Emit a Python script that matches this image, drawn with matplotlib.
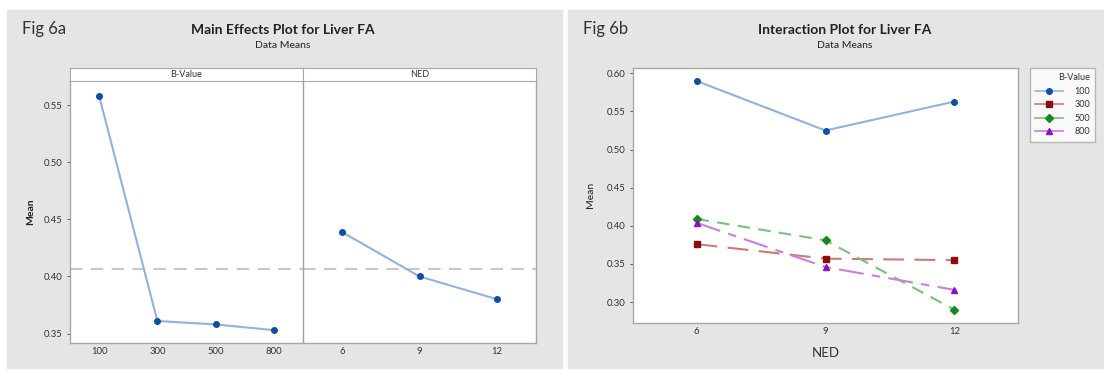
import matplotlib.pyplot as plt
from matplotlib.patches import Rectangle

plt.rcParams['font.family'] = ['Lato', 'DejaVu Sans']

# Fig 6a : main effects
bvalue_levels = ['100', '300', '500', '800']
bvalue_means = [0.558, 0.361, 0.358, 0.353]
ned_levels = ['6', '9', '12']
ned_means = [0.439, 0.400, 0.380]
grand_mean = 0.4065

# Fig 6b : interaction (B-Value x NED)
ned_x = [6, 9, 12]
inter_labels = ['100', '300', '500', '800']
inter_means = {
    '100': [0.590, 0.525, 0.563],
    '300': [0.376, 0.357, 0.355],
    '500': [0.409, 0.381, 0.290],
    '800': [0.404, 0.346, 0.316],
}

W, H = 1104, 371
fig = plt.figure(figsize=(W / 100, H / 100), dpi=100)
fig.patch.set_facecolor('white')


def fx(px):
    return px / W


def fy(py):
    return 1 - py / H


panel_col = '#e5e5e5'
fig.patches.append(Rectangle((fx(7), fy(368)), fx(555), (358) / H,
                             transform=fig.transFigure, color=panel_col, zorder=-10))
fig.patches.append(Rectangle((fx(568), fy(368)), fx(536), (358) / H,
                             transform=fig.transFigure, color=panel_col, zorder=-10))

spine_col = '#a8a8a8'
tick_col = '#404040'


def style(ax):
    ax.set_facecolor('white')
    for s in ax.spines.values():
        s.set_color(spine_col)
        s.set_linewidth(1.0)
    ax.tick_params(axis='both', labelsize=6.8, colors=tick_col, length=2.5,
                   width=0.6, pad=3)
    for lab in ax.get_xticklabels() + ax.get_yticklabels():
        lab.set_color('#333333')


# ---------- Fig 6a ----------
y0, y1 = 0.342, 0.572
ax1 = fig.add_axes([fx(70), fy(342.7), fx(233), 262.7 / H])
ax2 = fig.add_axes([fx(303), fy(342.7), fx(233), 262.7 / H], sharey=ax1)

x1 = list(range(len(bvalue_levels)))
ax1.plot(x1, bvalue_means, color='#8fb3e0', lw=1.5, zorder=2)
ax1.plot(x1, bvalue_means, 'o', color='#0d4fa6', ms=4, zorder=3)
ax1.set_xlim(-0.5, len(bvalue_levels) - 0.5)
ax1.set_xticks(x1)
ax1.set_xticklabels(bvalue_levels)
ax1.set_ylim(y0, y1)
ax1.set_yticks([0.35, 0.40, 0.45, 0.50, 0.55])
ax1.set_yticklabels(['0.35', '0.40', '0.45', '0.50', '0.55'])
ax1.axhline(grand_mean, color='#c8c8c8', lw=1.5, ls=(0, (6, 4)), zorder=1)

x2 = list(range(len(ned_levels)))
ax2.plot(x2, ned_means, color='#8fb3e0', lw=1.5, zorder=2)
ax2.plot(x2, ned_means, 'o', color='#0d4fa6', ms=4, zorder=3)
ax2.set_xlim(-0.5, len(ned_levels) - 0.5)
ax2.set_xticks(x2)
ax2.set_xticklabels(ned_levels)
ax2.axhline(grand_mean, color='#c8c8c8', lw=1.5, ls=(0, (6, 4)), zorder=1)

style(ax1)
style(ax2)
ax2.tick_params(axis='y', left=False, labelleft=False)
ax2.tick_params(axis='x', length=0)
ax1.tick_params(axis='x', length=0)
ax1.spines['right'].set_visible(False)
ax2.spines['left'].set_color('#a0a0a0')
ax1.set_ylabel('Mean', fontsize=7.5, fontweight='bold', color='#222222', labelpad=6)

# strip headers
for left, label in [(70, 'B-Value'), (303, 'NED')]:
    sax = fig.add_axes([fx(left), fy(80.5), fx(233), 13 / H])
    sax.set_xticks([])
    sax.set_yticks([])
    sax.set_facecolor('white')
    for s in sax.spines.values():
        s.set_color(spine_col)
    sax.text(0.5, 0.45, label, ha='center', va='center', fontsize=6.5,
             color='#333333', transform=sax.transAxes)

fig.text(fx(22), fy(29), 'Fig 6a', fontsize=12, color='#333333', va='center')
fig.text(fx(283), fy(30), 'Main Effects Plot for Liver FA', fontsize=10,
         fontweight='bold', color='#222222', ha='center', va='center')
fig.text(fx(283), fy(46), 'Data Means', fontsize=7.5, color='#222222',
         ha='center', va='center')

# ---------- Fig 6b ----------
ax3 = fig.add_axes([fx(633), fy(322.7), fx(385), 254.7 / H])
styles = {
    '100': dict(line='#8fb3e0', mk='#0d4fa6', marker='o', ls='-', ms=4),
    '300': dict(line='#c97b78', mk='#8c0d0d', marker='s', ls=(0, (10, 5)), ms=4),
    '500': dict(line='#79c27a', mk='#138a1c', marker='D', ls=(0, (6, 4)), ms=3.6),
    '800': dict(line='#c97ee0', mk='#8a10c4', marker='^', ls=(0, (12, 4, 4, 4)), ms=4.2),
}
handles = []
for lab in inter_labels:
    st = styles[lab]
    ax3.plot(ned_x, inter_means[lab], color=st['line'], lw=1.5, ls=st['ls'], zorder=2)
    ax3.plot(ned_x, inter_means[lab], st['marker'], color=st['mk'], ms=st['ms'], zorder=3)
    h, = ax3.plot([], [], color=st['line'], lw=1.2, ls='-', marker=st['marker'],
                  mfc=st['mk'], mec=st['mk'], ms=st['ms'])
    handles.append(h)

ax3.set_xlim(4.52, 13.48)
ax3.set_ylim(0.273, 0.607)
ax3.set_xticks(ned_x)
ax3.set_xticklabels([str(v) for v in ned_x])
ax3.set_yticks([0.30, 0.35, 0.40, 0.45, 0.50, 0.55, 0.60])
ax3.set_yticklabels(['0.30', '0.35', '0.40', '0.45', '0.50', '0.55', '0.60'])
style(ax3)
ax3.tick_params(axis='x', length=0)
ax3.set_ylabel('Mean', fontsize=7.5, color='#222222', labelpad=8)
ax3.set_xlabel('NED', fontsize=9.5, color='#333333', labelpad=8)

leg = fig.legend(handles, inter_labels, title='B-Value', loc='upper left',
                 bbox_to_anchor=(fx(1030), fy(68)), fontsize=6.5, title_fontsize=6.5,
                 frameon=True, fancybox=False, handlelength=3.0, borderpad=0.6,
                 labelspacing=0.5, markerfirst=True, alignment='right',
                 handletextpad=1.3, borderaxespad=0)
leg.get_frame().set_edgecolor(spine_col)
leg.get_frame().set_facecolor('white')
for t in leg.get_texts():
    t.set_color('#333333')
    t.set_ha('right')
leg.get_title().set_color('#333333')

fig.text(fx(583), fy(29), 'Fig 6b', fontsize=12, color='#333333', va='center')
fig.text(fx(845), fy(30), 'Interaction Plot for Liver FA', fontsize=10,
         fontweight='bold', color='#222222', ha='center', va='center')
fig.text(fx(845), fy(46), 'Data Means', fontsize=7.5, color='#222222',
         ha='center', va='center')

fig.savefig('out.png', dpi=100)
